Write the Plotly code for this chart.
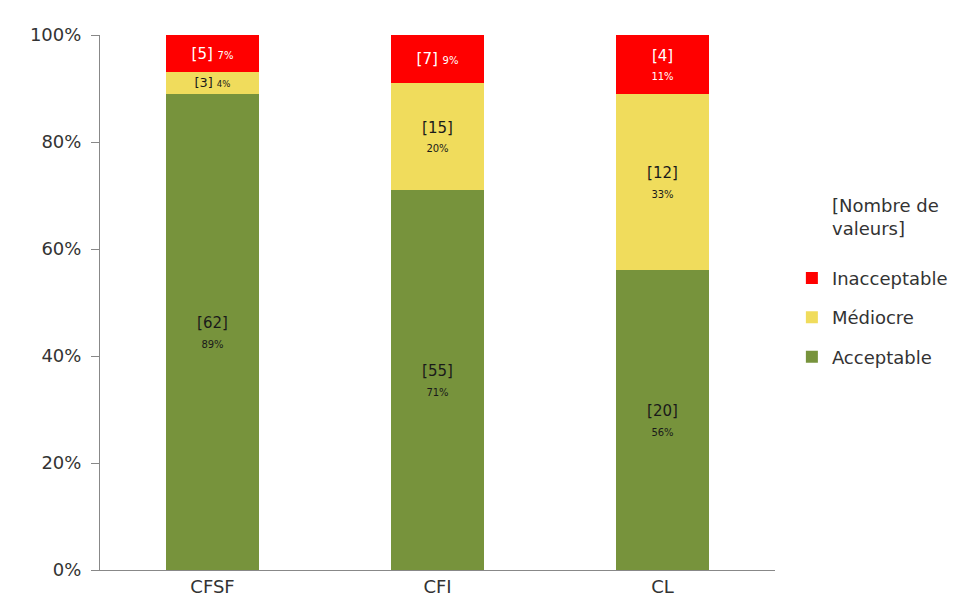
import plotly.graph_objects as go

categories = ["CFSF", "CFI", "CL"]
acceptable_n = [62, 55, 20]
mediocre_n = [3, 15, 12]
inacceptable_n = [5, 7, 4]
acceptable_pct = [89, 71, 56]
mediocre_pct = [4, 20, 33]
inacceptable_pct = [7, 9, 11]
ytick_vals = [0, 20, 40, 60, 80, 100]
ytick_text = ["0%", "20%", "40%", "60%", "80%", "100%"]
inline_label = {"Médiocre": [True, False, False], "Inacceptable": [True, True, False]}

FONT = "DejaVu Sans, Liberation Sans, Arial"

series = [
    ("Acceptable", acceptable_n, acceptable_pct, "#77933C", "#1a1a1a", 3),
    ("Médiocre", mediocre_n, mediocre_pct, "#F0DC5C", "#1a1a1a", 2),
    ("Inacceptable", inacceptable_n, inacceptable_pct, "#FF0000", "#FFFFFF", 1),
]

fig = go.Figure()
for name, counts, pct, color, tcolor, rank in series:
    inl = inline_label.get(name, [False] * len(counts))
    texts = []
    for c, p, one in zip(counts, pct, inl):
        sep = " " if one else "<br>"
        texts.append(f"[{c}]{sep}<span style='font-size:10px'>{p}%</span>")
    fig.add_trace(go.Bar(
        x=categories, y=pct, name=name, marker=dict(color=color, line=dict(width=0)),
        text=texts, textposition="inside", insidetextanchor="middle", textangle=0,
        textfont=dict(color=tcolor, size=15, family=FONT),
        width=0.41, legendgroup=name, legendrank=rank,
    ))

fig.add_annotation(
    text="[Nombre de<br>valeurs]", xref="paper", yref="paper",
    x=1.081, y=0.66, xanchor="left", yanchor="middle", align="left",
    showarrow=False, font=dict(size=18, color="#333333", family=FONT),
)

fig.update_layout(
    barmode="stack",
    width=969, height=615,
    margin=dict(l=92, r=202, t=27, b=53),
    paper_bgcolor="white", plot_bgcolor="white",
    font=dict(family=FONT, size=18, color="#333333"),
    legend=dict(
        traceorder="grouped", tracegroupgap=13,
        x=1.025, y=0.58, xanchor="left", yanchor="top",
        font=dict(size=18), itemwidth=30,
    ),
    showlegend=True,
)
fig.update_yaxes(
    range=[0, 100], tickmode="array", tickvals=ytick_vals, ticktext=ytick_text,
    showgrid=False, showline=True, linecolor="#888888", linewidth=1,
    ticks="outside", ticklen=8, tickcolor="#888888", zeroline=False,
    ticklabelstandoff=6,
)
fig.update_xaxes(
    range=[-0.5, 2.5], showline=True, linecolor="#888888", linewidth=1,
    ticks="", showgrid=False,
)
fig.write_html("out.html")
